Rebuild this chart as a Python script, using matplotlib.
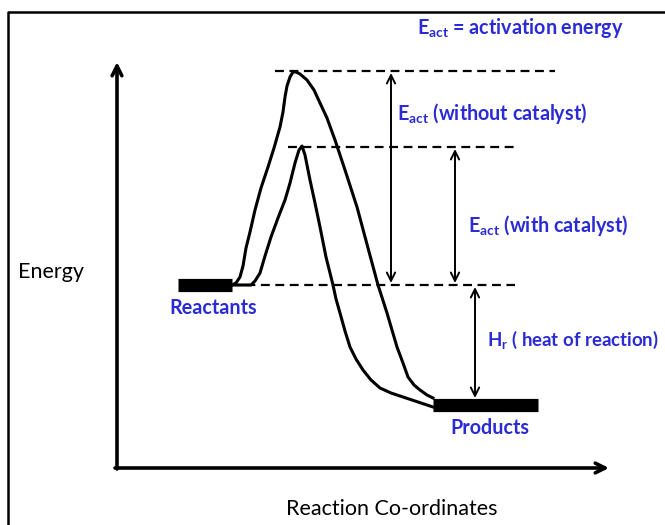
import matplotlib
matplotlib.use('Agg')
import matplotlib.pyplot as plt

plt.rcParams['font.family'] = ['Lato', 'DejaVu Sans']
plt.rcParams['mathtext.fontset'] = 'custom'
plt.rcParams['mathtext.rm'] = 'Lato:bold'
plt.rcParams['mathtext.bf'] = 'Lato:bold'
plt.rcParams['mathtext.it'] = 'Lato:bold'

# energy profile (x = reaction coordinate, y = energy, both in image units, y downwards)
uncat_x = [232, 236, 240, 243, 246, 250, 255, 261, 268, 274, 280, 283, 285, 287, 290, 293, 296, 300,
           307, 314, 320, 327, 335, 345, 357, 368, 378, 387, 397, 403, 408, 414, 420, 427, 433]
uncat_y = [285, 283, 277, 266, 248, 232, 210, 188, 167, 148, 127, 112, 97, 86, 77, 72, 72, 74,
           80, 90, 103, 118, 140, 170, 207, 248, 285, 313, 347, 363, 377, 385, 390, 395, 398]

cat_x = [232, 251, 255, 260, 265, 271, 278, 285, 290, 295, 299, 302, 305, 310, 315, 320, 326, 333,
         336, 340, 345, 350, 356, 363, 371, 380, 391, 403, 418, 433]
cat_y = [285, 285, 281, 273, 256, 237, 218, 200, 183, 163, 150, 146, 155, 180, 203, 227, 257, 285,
         299, 313, 331, 347, 359, 370, 380, 388, 393, 397, 402, 407]

reactant_level = 285
product_level = 405
peak_uncat = 71
peak_cat = 147
reactant_bar = (178, 232)
product_bar = (433, 538)

blue = '#2b2bd6'

fig = plt.figure(figsize=(6.65, 5.25), dpi=100)
ax = fig.add_axes([0, 0, 1, 1])
ax.set_xlim(0, 665)
ax.set_ylim(525, 0)
ax.axis('off')

# outer frame (only top and left edges are inside the picture)
ax.plot([8, 8, 665], [525, 12, 12], color='black', lw=1.8)

# axes with arrow heads
ax.annotate('', xy=(117, 62), xytext=(117, 469),
            arrowprops=dict(arrowstyle='->,head_length=0.7,head_width=0.35', lw=2.6, color='black',
                            shrinkA=0, shrinkB=0))
ax.annotate('', xy=(609, 468), xytext=(115, 468),
            arrowprops=dict(arrowstyle='->,head_length=0.7,head_width=0.35', lw=2.6, color='black',
                            shrinkA=0, shrinkB=0))

# dashed guide lines
dash = dict(color='black', lw=1.6, dashes=(4, 2.5))
ax.plot([275, 555], [peak_uncat, peak_uncat], **dash)
ax.plot([288, 515], [peak_cat, peak_cat], **dash)
ax.plot([232, 515], [reactant_level, reactant_level], **dash)

# curves
ax.plot(uncat_x, uncat_y, color='black', lw=2.2, solid_joinstyle='round')
ax.plot(cat_x, cat_y, color='black', lw=2.2, solid_joinstyle='round')

# reactant / product bars
ax.plot(reactant_bar, [reactant_level, reactant_level], color='black', lw=9.5, solid_capstyle='butt')
ax.plot(product_bar, [product_level, product_level], color='black', lw=9.5, solid_capstyle='butt')

# double arrows
arr = dict(arrowstyle='<->,head_length=0.6,head_width=0.3', lw=1.4, color='black', shrinkA=0, shrinkB=0)
ax.annotate('', xy=(391, peak_uncat + 2), xytext=(391, reactant_level - 2), arrowprops=arr)
ax.annotate('', xy=(455, peak_cat + 2), xytext=(455, reactant_level - 2), arrowprops=arr)
ax.annotate('', xy=(475, reactant_level + 2), xytext=(475, product_level - 7), arrowprops=arr)

# labels
ax.text(18, 272, 'Energy', fontsize=15.5, color='black', va='center', ha='left')
ax.text(392, 509, 'Reaction Co-ordinates', fontsize=15.5, color='black', va='center', ha='center')
ax.text(213, 308, 'Reactants', fontsize=14.2, color=blue, fontweight='bold', va='center', ha='center')
ax.text(490, 428, 'Products', fontsize=14.2, color=blue, fontweight='bold', va='center', ha='center')

ax.text(417, 28, r'E$_{\rm act}$ = activation energy', fontsize=14.2, color=blue, fontweight='bold',
        va='center', ha='left')
ax.text(397, 114, r'E$_{\rm act}$ (without catalyst)', fontsize=14.2, color=blue, fontweight='bold',
        va='center', ha='left')
ax.text(468, 225, r'E$_{\rm act}$ (with catalyst)', fontsize=14.2, color=blue, fontweight='bold',
        va='center', ha='left')
ax.text(487, 340, r'H$_{\rm r}$ ( heat of reaction)', fontsize=13.4, color=blue, fontweight='bold',
        va='center', ha='left')

fig.savefig('out.png', dpi=100)
